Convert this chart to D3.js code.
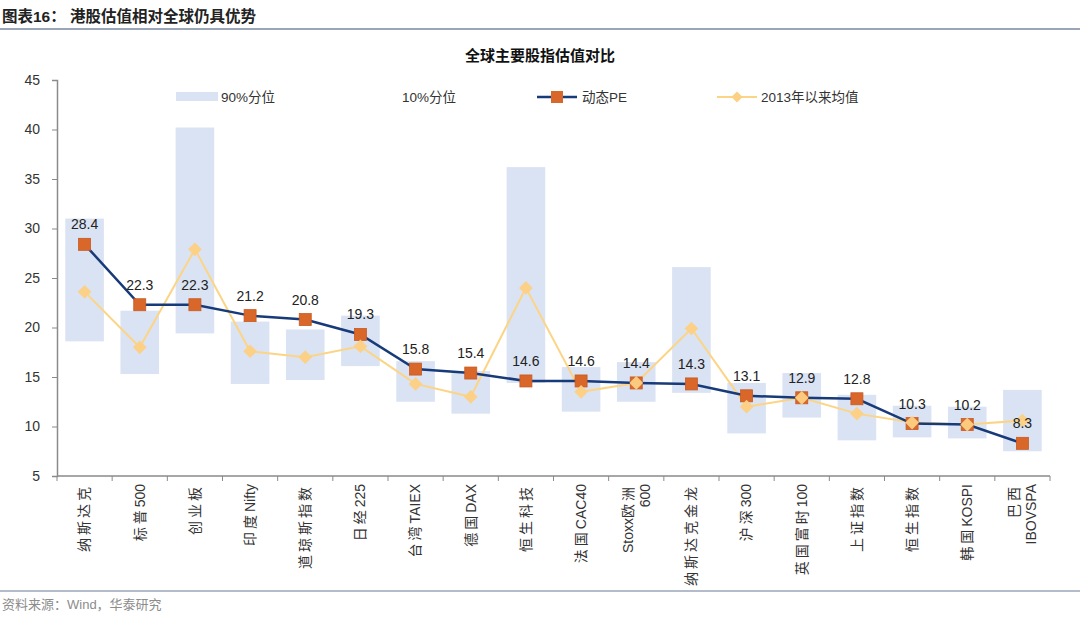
<!DOCTYPE html>
<html>
<head>
<meta charset="utf-8">
<script src="https://cdn.jsdelivr.net/npm/d3@7"></script>
<style>
  body { margin: 0; background: #fff; }
  #chart { width: 1080px; height: 618px; }
  text { font-family: "Liberation Sans", "Noto Sans CJK SC", sans-serif; }
</style>
</head>
<body>
<div id="chart"></div>
<script>
// values
const categories = ["纳斯达克", "标普500", "创业板", "印度Nifty", "道琼斯指数", "日经225", "台湾TAIEX",
  "德国DAX", "恒生科技", "法国CAC40", "Stoxx欧洲|600", "纳斯达克金龙", "沪深300", "英国富时100",
  "上证指数", "恒生指数", "韩国KOSPI", "巴西|IBOVSPA"];
const pct90 = [31.0, 21.7, 40.2, 20.6, 19.8, 21.2, 16.6, 15.6, 36.2, 16.0, 16.5, 26.1, 14.4, 15.4, 13.2, 12.1, 12.0, 13.7];
const pct10 = [18.6, 15.3, 19.4, 14.3, 14.7, 16.1, 12.5, 11.3, 14.4, 11.5, 12.5, 13.4, 9.3, 10.9, 8.6, 8.9, 8.8, 7.5];
const pe = [28.4, 22.3, 22.3, 21.2, 20.8, 19.3, 15.8, 15.4, 14.6, 14.6, 14.4, 14.3, 13.1, 12.9, 12.8, 10.3, 10.2, 8.3];
const avg2013 = [23.6, 18.0, 27.9, 17.6, 17.0, 18.1, 14.3, 13.0, 24.0, 13.5, 14.4, 19.9, 12.0, 12.9, 11.3, 10.4, 10.2, 10.6];
const yTicks = [5, 10, 15, 20, 25, 30, 35, 40, 45];

const W = 1080, H = 618;
const plotLeft = 57, plotRight = 1050, plotTop = 80, plotBottom = 476;

const svg = d3.select("#chart").append("svg").attr("width", W).attr("height", H);

// header + footer
svg.append("text").attr("x", 2).attr("y", 22)
  .attr("font-size", 15.5).attr("font-weight", "bold").attr("fill", "#222")
  .text("图表16：  港股估值相对全球仍具优势");
svg.append("line").attr("x1", 0).attr("x2", W).attr("y1", 29).attr("y2", 29)
  .attr("stroke", "#9aa6b8").attr("stroke-width", 2);
svg.append("line").attr("x1", 0).attr("x2", W).attr("y1", 591).attr("y2", 591)
  .attr("stroke", "#9aa6b8").attr("stroke-width", 1.5);
svg.append("text").attr("x", 2).attr("y", 609)
  .attr("font-size", 13).attr("fill", "#8c8c8c")
  .text("资料来源：Wind，华泰研究");

svg.append("text").attr("x", 540).attr("y", 61).attr("text-anchor", "middle")
  .attr("font-size", 15).attr("font-weight", "bold").attr("fill", "#111")
  .text("全球主要股指估值对比");

// scales
const x = d3.scaleBand().domain(categories).range([plotLeft, plotRight]).paddingInner(0.3).paddingOuter(0.15);
const cx = d => x(d) + x.bandwidth() / 2;
const y = d3.scaleLinear().domain([5, 45]).range([plotBottom, plotTop]);

// percentile range bars
svg.append("g").selectAll("rect").data(categories).join("rect")
  .attr("x", d => x(d))
  .attr("width", x.bandwidth())
  .attr("y", (d, i) => y(pct90[i]))
  .attr("height", (d, i) => y(pct10[i]) - y(pct90[i]))
  .attr("fill", "#dae3f3");

// axes
const yAxis = svg.append("g").attr("transform", `translate(${plotLeft},0)`)
  .call(d3.axisLeft(y).tickValues(yTicks).tickSize(5).tickPadding(12));
yAxis.select(".domain").attr("stroke", "#8a8a8a").attr("stroke-width", 1.5);
yAxis.selectAll(".tick line").attr("stroke", "#8a8a8a");
yAxis.selectAll(".tick text").attr("font-size", 14).attr("fill", "#333")
  .attr("font-family", "Liberation Sans, sans-serif");

const xg = svg.append("g");
xg.append("line").attr("x1", plotLeft).attr("x2", plotRight).attr("y1", plotBottom).attr("y2", plotBottom)
  .attr("stroke", "#8a8a8a").attr("stroke-width", 1.5);
const bounds = d3.range(categories.length + 1).map(i => plotLeft + i * x.step());
xg.selectAll(".xt").data(bounds).join("line").attr("class", "xt")
  .attr("x1", d => d).attr("x2", d => d).attr("y1", plotBottom).attr("y2", plotBottom + 5)
  .attr("stroke", "#8a8a8a");

// rotated category labels; chinese characters are spaced out like in the source
const cjk = /[\u3400-\u9fff]/;
const xl = xg.selectAll(".xl").data(categories).join("text").attr("class", "xl")
  .attr("transform", d => `translate(${cx(d)},${plotBottom + 8}) rotate(-90)`)
  .attr("text-anchor", "end")
  .attr("font-size", 14).attr("fill", "#333");
xl.each(function(d) {
  const lines = d.split("|");
  const t = d3.select(this);
  const off = (lines.length - 1) * -0.6;
  lines.forEach((ln, k) => {
    const runs = ln.match(/[\u3400-\u9fff]+|[^\u3400-\u9fff]+/g);
    runs.forEach((r, j) => {
      const ts = t.append("tspan").text(r);
      if (cjk.test(r)) ts.attr("letter-spacing", 3);
      if (j === 0) ts.attr("x", 0).attr("dy", k === 0 ? (0.35 + off) + "em" : "1.2em");
    });
  });
});

// lines
const line = d3.line().x((d, i) => cx(categories[i])).y(d => y(d));
svg.append("path").datum(avg2013).attr("d", line)
  .attr("fill", "none").attr("stroke", "#fcd486").attr("stroke-width", 2);
svg.append("path").datum(pe).attr("d", line)
  .attr("fill", "none").attr("stroke", "#173a78").attr("stroke-width", 2.5);

// markers
svg.append("g").selectAll("rect").data(pe).join("rect")
  .attr("x", (d, i) => cx(categories[i]) - 6)
  .attr("y", d => y(d) - 6)
  .attr("width", 12).attr("height", 12)
  .attr("fill", "#d9672a").attr("stroke", "#c75a22").attr("stroke-width", 0.8);
const diamond = d3.symbol().type(d3.symbolDiamond2).size(120);
svg.append("g").selectAll("path").data(avg2013).join("path")
  .attr("transform", (d, i) => `translate(${cx(categories[i])},${y(d)})`)
  .attr("d", diamond)
  .attr("fill", "#fdd083").attr("opacity", 0.95);

// PE data labels
svg.append("g").selectAll("text").data(pe).join("text")
  .attr("x", (d, i) => cx(categories[i]))
  .attr("y", d => y(d) - 15)
  .attr("text-anchor", "middle")
  .attr("font-size", 14).attr("fill", "#222")
  .text(d => d.toFixed(1));

// legend
const lg = svg.append("g").attr("font-size", 13.5).attr("fill", "#333");
lg.append("rect").attr("x", 176).attr("y", 92).attr("width", 42).attr("height", 9).attr("fill", "#dae3f3");
lg.append("text").attr("x", 221).attr("y", 102).attr("fill", "#333").text("90%分位");
lg.append("text").attr("x", 402).attr("y", 102).attr("fill", "#333").text("10%分位");
lg.append("line").attr("x1", 537).attr("x2", 577).attr("y1", 97).attr("y2", 97)
  .attr("stroke", "#173a78").attr("stroke-width", 2.5);
lg.append("rect").attr("x", 551).attr("y", 91).attr("width", 12).attr("height", 12).attr("fill", "#d9672a");
lg.append("text").attr("x", 582).attr("y", 102).attr("fill", "#333").text("动态PE");
lg.append("line").attr("x1", 717).attr("x2", 757).attr("y1", 97).attr("y2", 97)
  .attr("stroke", "#fcd486").attr("stroke-width", 2);
lg.append("path").attr("transform", "translate(737,97)").attr("d", d3.symbol().type(d3.symbolDiamond2).size(80))
  .attr("fill", "#fdd083");
lg.append("text").attr("x", 761).attr("y", 102).attr("fill", "#333").text("2013年以来均值");
</script>
</body>
</html>
